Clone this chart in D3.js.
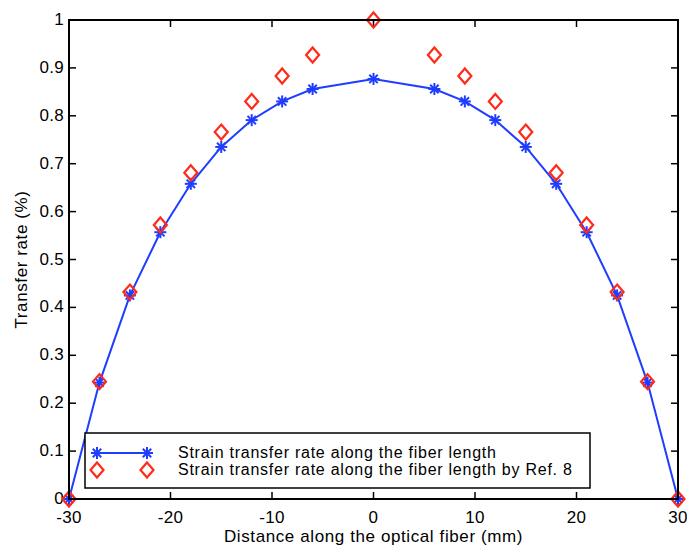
<!DOCTYPE html>
<html><head><meta charset="utf-8">
<script src="https://cdn.jsdelivr.net/npm/d3@7"></script>
<style>body{margin:0;background:#fff}svg{display:block}text{font-family:"Liberation Sans",Arial,sans-serif}</style>
</head><body><svg id="c" width="687" height="547"></svg>
<script>
const xPos = [-30,-27,-24,-21,-18,-15,-12,-9,-6,0,6,9,12,15,18,21,24,27,30];
const blueVals = [0,0.243,0.425,0.557,0.658,0.735,0.791,0.830,0.856,0.877,0.856,0.830,0.791,0.735,0.658,0.557,0.425,0.243,0];
const redVals = [0,0.245,0.432,0.572,0.681,0.766,0.830,0.883,0.927,1.0,0.927,0.883,0.830,0.766,0.681,0.572,0.432,0.245,0];
const xTicks = [-30,-20,-10,0,10,20,30];
const yTicks = [0,0.1,0.2,0.3,0.4,0.5,0.6,0.7,0.8,0.9,1];
const legendLabels = ["Strain transfer rate along the fiber length","Strain transfer rate along the fiber length by Ref. 8"];

const svg = d3.select("#c");
const L=69,R=678,T=20,B=499;
const x = d3.scaleLinear().domain([-30,30]).range([L,R]);
const y = d3.scaleLinear().domain([0,1]).range([B,T]);
const blue="#1f3dff", red="#ff2a1a";
const tl=7;
const fs=17;
const fmt = d=> d===0?"0":d===1?"1":d3.format(".1f")(d);

// ticks
const g = svg.append("g").attr("stroke","#000").attr("stroke-width",1.5);
xTicks.forEach(t=>{
  g.append("line").attr("x1",x(t)).attr("x2",x(t)).attr("y1",B).attr("y2",B-tl);
  g.append("line").attr("x1",x(t)).attr("x2",x(t)).attr("y1",T).attr("y2",T+tl);
});
yTicks.forEach(t=>{
  g.append("line").attr("x1",L).attr("x2",L+tl).attr("y1",y(t)).attr("y2",y(t));
  g.append("line").attr("x1",R).attr("x2",R-tl).attr("y1",y(t)).attr("y2",y(t));
});
svg.append("g").selectAll("text").data(xTicks).join("text")
  .attr("x",d=>x(d)).attr("y",523).attr("text-anchor","middle").attr("font-size",fs).attr("letter-spacing",0.3).text(d=>d);
svg.append("g").selectAll("text").data(yTicks).join("text")
  .attr("x",L-5).attr("y",d=>y(d)+5).attr("text-anchor","end").attr("font-size",fs).attr("letter-spacing",0.3).text(fmt);

svg.append("text").attr("x",(L+R)/2).attr("y",542).attr("text-anchor","middle").attr("font-size",fs)
  .attr("letter-spacing",0.6).text("Distance along the optical fiber (mm)");
svg.append("text").attr("transform",`translate(27,${(T+B)/2}) rotate(-90)`).attr("text-anchor","middle").attr("font-size",fs)
  .attr("letter-spacing",0.6).text("Transfer rate (%)");

// markers
function star(sel,cx,cy,s){
  const gg=sel.append("g").attr("stroke",blue).attr("stroke-width",2);
  const d=s*0.7;
  gg.append("line").attr("x1",cx-s).attr("x2",cx+s).attr("y1",cy).attr("y2",cy);
  gg.append("line").attr("x1",cx).attr("x2",cx).attr("y1",cy-s).attr("y2",cy+s);
  gg.append("line").attr("x1",cx-d).attr("x2",cx+d).attr("y1",cy-d).attr("y2",cy+d);
  gg.append("line").attr("x1",cx-d).attr("x2",cx+d).attr("y1",cy+d).attr("y2",cy-d);
}
function diamond(sel,cx,cy,w,h){
  sel.append("path").attr("d",`M${cx},${cy-h}L${cx+w},${cy}L${cx},${cy+h}L${cx-w},${cy}Z`)
    .attr("fill","none").attr("stroke",red).attr("stroke-width",2.2);
}
const data = xPos.map((d,i)=>({x:d,b:blueVals[i],r:redVals[i]}));
const line = d3.line().x(d=>x(d.x)).y(d=>y(d.b));
svg.append("path").datum(data).attr("d",line).attr("fill","none").attr("stroke",blue).attr("stroke-width",2);
const mk = svg.append("g");
data.forEach(d=>star(mk,x(d.x),y(d.b),6));
data.forEach(d=>diamond(mk,x(d.x),y(d.r),6.5,7.5));

// legend
const lg = svg.append("g");
lg.append("rect").attr("x",85).attr("y",433).attr("width",505).attr("height",55).attr("fill","#fff").attr("stroke","#000").attr("stroke-width",1.5);
lg.append("line").attr("x1",97).attr("x2",147).attr("y1",453).attr("y2",453).attr("stroke",blue).attr("stroke-width",2);
star(lg,97,453,6); star(lg,147,453,6);
diamond(lg,97,470,6.5,7.5); diamond(lg,147,470,6.5,7.5);
legendLabels.forEach((t,i)=>lg.append("text").attr("x",178).attr("y",458+i*17).attr("font-size",16).attr("letter-spacing",0.75).text(t));

// frame
svg.append("rect").attr("x",L).attr("y",T).attr("width",R-L).attr("height",B-T).attr("fill","none").attr("stroke","#000").attr("stroke-width",2);
</script></body></html>
